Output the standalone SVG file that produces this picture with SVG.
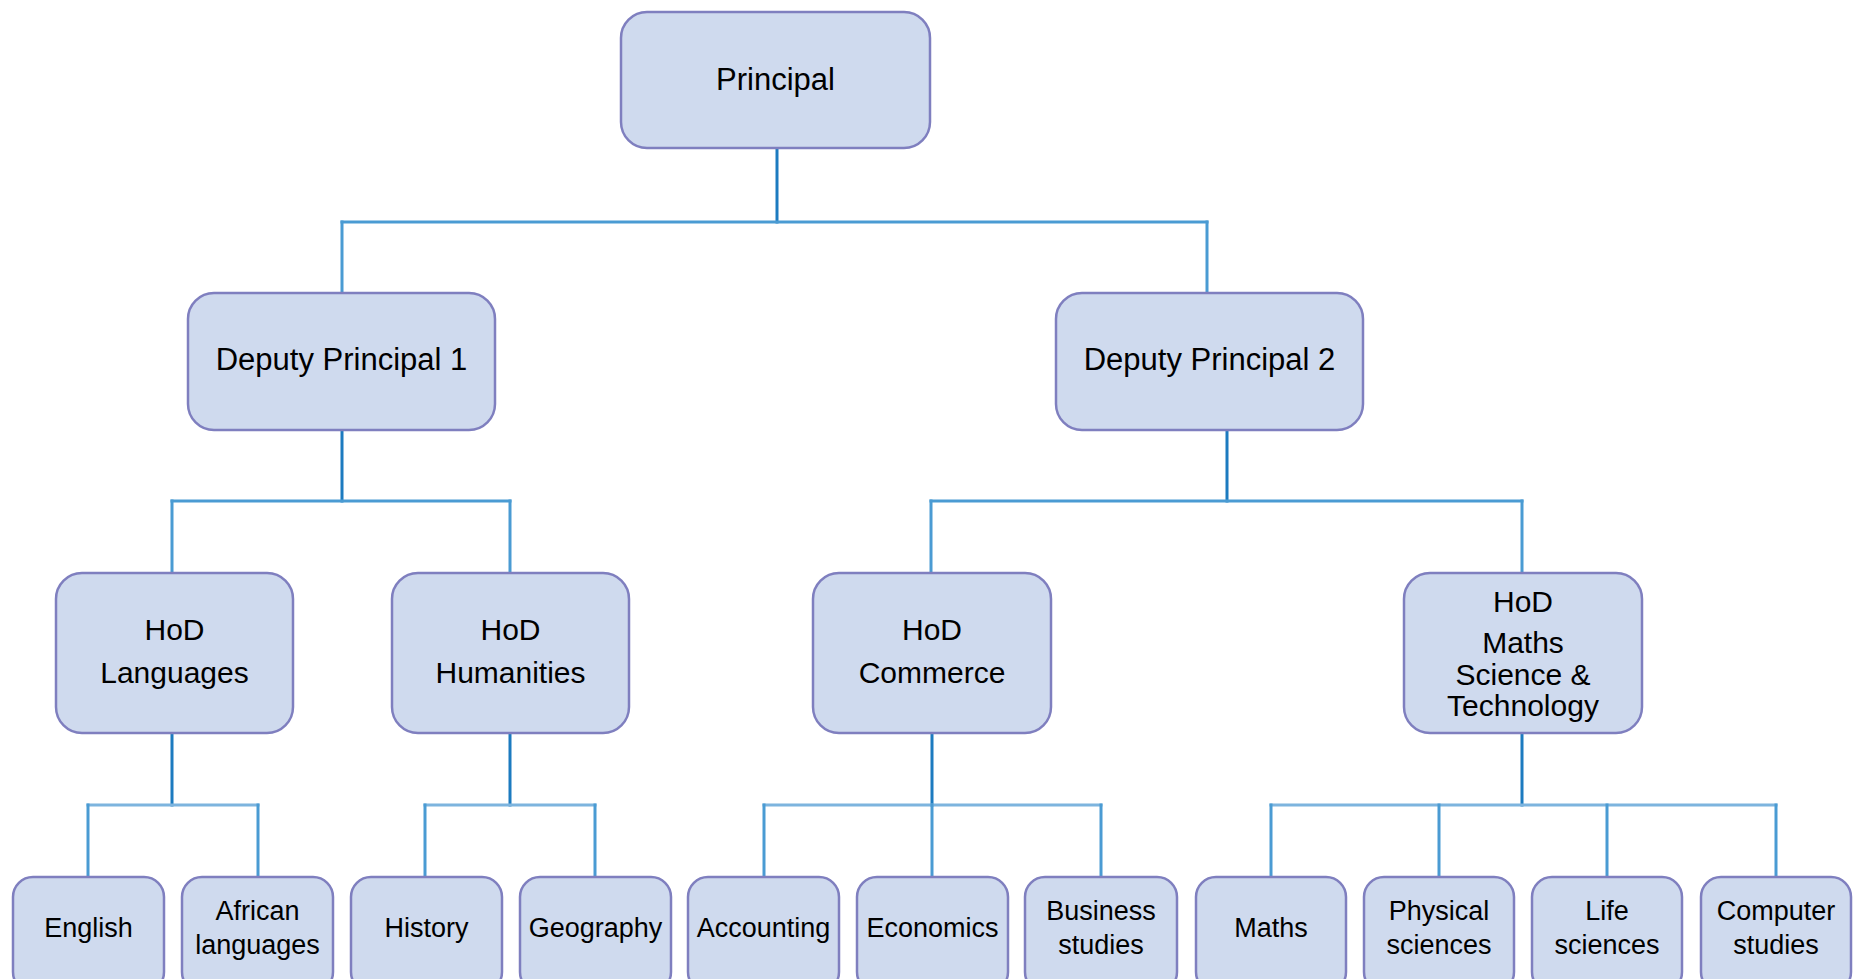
<svg xmlns="http://www.w3.org/2000/svg" width="1854" height="979" viewBox="0 0 1854 979">
  <style>
    .box { fill: #CFDAEE; stroke: #7F7FBF; stroke-width: 2.5; }
    .lbl { font-family: "Liberation Sans", Arial, sans-serif; fill: #000; text-anchor: middle; }
    .l1 { font-size: 31px; }
    .l3 { font-size: 30px; }
    .l4 { font-size: 27px; }
    .wire { fill: none; stroke-width: 3; stroke-linecap: square; }
    .dark { stroke: #1C7BC0; }
    .mid { stroke: #4A9BD3; }
    .light { stroke: #7DB4DE; }
  </style>
  <rect width="1854" height="979" fill="#FFFFFF"/>

  <!-- connectors -->
  <g id="connectors">
    <!-- Principal to deputies -->
    <path class="wire dark" d="M777 148 V222"/>
    <path class="wire mid" d="M342 222 H1207"/>
    <path class="wire mid" d="M342 222 V293 M1207 222 V293"/>
    <!-- Deputies to HoDs -->
    <path class="wire dark" d="M342 430 V501 M1227 430 V501"/>
    <path class="wire mid" d="M172 501 H510 M931 501 H1522"/>
    <path class="wire mid" d="M172 501 V573 M510 501 V573 M931 501 V573 M1522 501 V573"/>
    <!-- HoDs to subjects -->
    <path class="wire dark" d="M172 733 V805 M510 733 V805 M932 733 V805 M1522 733 V805"/>
    <path class="wire light" d="M88 805 H258 M425 805 H595 M764 805 H1101 M1271 805 H1776"/>
    <path class="wire mid" d="M88 805 V877 M258 805 V877 M425 805 V877 M595 805 V877 M764 805 V877 M932 805 V877 M1101 805 V877 M1271 805 V877 M1439 805 V877 M1607 805 V877 M1776 805 V877"/>
  </g>

  <!-- level 1 -->
  <g id="principal">
    <rect class="box" x="621" y="12" width="309" height="136" rx="26"/>
    <text class="lbl l1" x="775.5" y="90">Principal</text>
  </g>

  <!-- level 2 -->
  <g id="deputy1">
    <rect class="box" x="188" y="293" width="307" height="137" rx="26"/>
    <text class="lbl l1" x="341.5" y="370">Deputy Principal 1</text>
  </g>
  <g id="deputy2">
    <rect class="box" x="1056" y="293" width="307" height="137" rx="26"/>
    <text class="lbl l1" x="1209.5" y="370">Deputy Principal 2</text>
  </g>

  <!-- level 3 -->
  <g id="hod-languages">
    <rect class="box" x="56" y="573" width="237" height="160" rx="26"/>
    <text class="lbl l3" x="174.5" y="640">HoD</text>
    <text class="lbl l3" x="174.5" y="683">Languages</text>
  </g>
  <g id="hod-humanities">
    <rect class="box" x="392" y="573" width="237" height="160" rx="26"/>
    <text class="lbl l3" x="510.5" y="640">HoD</text>
    <text class="lbl l3" x="510.5" y="683">Humanities</text>
  </g>
  <g id="hod-commerce">
    <rect class="box" x="813" y="573" width="238" height="160" rx="26"/>
    <text class="lbl l3" x="932" y="640">HoD</text>
    <text class="lbl l3" x="932" y="683">Commerce</text>
  </g>
  <g id="hod-mst">
    <rect class="box" x="1404" y="573" width="238" height="160" rx="26"/>
    <text class="lbl l3" x="1523" y="612">HoD</text>
    <text class="lbl l3" x="1523" y="653">Maths</text>
    <text class="lbl l3" x="1523" y="685">Science &amp;</text>
    <text class="lbl l3" x="1523" y="716">Technology</text>
  </g>

  <!-- level 4 -->
  <g id="english">
    <rect class="box" x="13" y="877" width="151" height="115" rx="20"/>
    <text class="lbl l4" x="88.5" y="937">English</text>
  </g>
  <g id="african-languages">
    <rect class="box" x="182" y="877" width="151" height="115" rx="20"/>
    <text class="lbl l4" x="257.5" y="920">African</text>
    <text class="lbl l4" x="257.5" y="954">languages</text>
  </g>
  <g id="history">
    <rect class="box" x="351" y="877" width="151" height="115" rx="20"/>
    <text class="lbl l4" x="426.5" y="937">History</text>
  </g>
  <g id="geography">
    <rect class="box" x="520" y="877" width="151" height="115" rx="20"/>
    <text class="lbl l4" x="595.5" y="937">Geography</text>
  </g>
  <g id="accounting">
    <rect class="box" x="688" y="877" width="151" height="115" rx="20"/>
    <text class="lbl l4" x="763.5" y="937">Accounting</text>
  </g>
  <g id="economics">
    <rect class="box" x="857" y="877" width="151" height="115" rx="20"/>
    <text class="lbl l4" x="932.5" y="937">Economics</text>
  </g>
  <g id="business-studies">
    <rect class="box" x="1025" y="877" width="152" height="115" rx="20"/>
    <text class="lbl l4" x="1101" y="920">Business</text>
    <text class="lbl l4" x="1101" y="954">studies</text>
  </g>
  <g id="maths">
    <rect class="box" x="1196" y="877" width="150" height="115" rx="20"/>
    <text class="lbl l4" x="1271" y="937">Maths</text>
  </g>
  <g id="physical-sciences">
    <rect class="box" x="1364" y="877" width="150" height="115" rx="20"/>
    <text class="lbl l4" x="1439" y="920">Physical</text>
    <text class="lbl l4" x="1439" y="954">sciences</text>
  </g>
  <g id="life-sciences">
    <rect class="box" x="1532" y="877" width="150" height="115" rx="20"/>
    <text class="lbl l4" x="1607" y="920">Life</text>
    <text class="lbl l4" x="1607" y="954">sciences</text>
  </g>
  <g id="computer-studies">
    <rect class="box" x="1701" y="877" width="150" height="115" rx="20"/>
    <text class="lbl l4" x="1776" y="920">Computer</text>
    <text class="lbl l4" x="1776" y="954">studies</text>
  </g>
</svg>
